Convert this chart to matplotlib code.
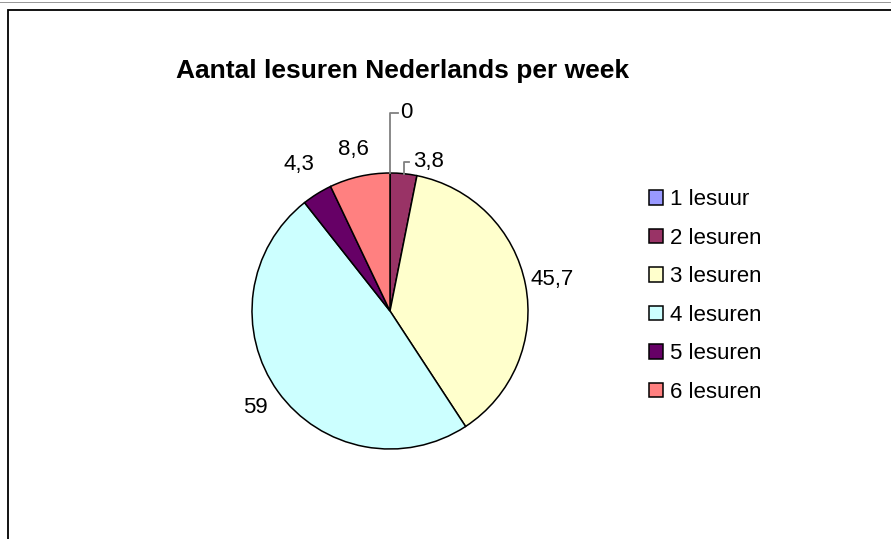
import numpy as np
import matplotlib.pyplot as plt
from matplotlib.patches import Rectangle

plt.rcParams['font.family'] = ['Liberation Sans', 'DejaVu Sans']

labels = ['1 lesuur', '2 lesuren', '3 lesuren', '4 lesuren', '5 lesuren', '6 lesuren']
values = [0, 3.8, 45.7, 59, 4.3, 8.6]
value_text = ['0', '3,8', '45,7', '59', '4,3', '8,6']
colors = ['#9999FF', '#993366', '#FFFFCC', '#CCFFFF', '#660066', '#FF8080']

fig = plt.figure(figsize=(8.91, 5.39), dpi=100)
W, H = 891, 539

# outer frame (Excel chart area)
fig.patches.append(Rectangle((0, 1 - 3 / H), 1, 0.002, transform=fig.transFigure,
                             facecolor='#999999', edgecolor='none'))
fig.patches.append(Rectangle((8 / W, -0.1), 1.2, 1.1 - 10 / H, transform=fig.transFigure,
                             facecolor='none', edgecolor='black', linewidth=1.3))

# pie centre (390, 311) px, radius 138 px
r_px = 138
L = 1.6
half = L * r_px
cx, cy = 390, H - 311
ax = fig.add_axes([(cx - half) / W, (cy - half) / H, 2 * half / W, 2 * half / H])

wedges, _ = ax.pie(values, colors=colors, startangle=90, counterclock=False,
                   wedgeprops=dict(edgecolor='black', linewidth=1.1))
ax.set_xlim(-L, L)
ax.set_ylim(-L, L)
ax.axis('off')

total = sum(values)
cum = np.cumsum([0] + values)
fs = 16
for i, w in enumerate(wedges):
    mid = (cum[i] + cum[i + 1]) / 2 / total * 360
    ang = np.deg2rad(90 - mid)
    ex, ey = np.cos(ang), np.sin(ang)
    if i == 0:
        # leader line straight up, then to the right
        ax.plot([ex, ex, ex + 0.058], [ey, 1.435, 1.435], color='#808080', lw=1.3, clip_on=False)
        ax.text(ex + 0.075, 1.44, value_text[i], ha='left', va='center', fontsize=fs)
    elif i == 1:
        ax.plot([ex, ex, ex + 0.04], [ey, 1.08, 1.08], color='#808080', lw=1.3, clip_on=False)
        ax.text(ex + 0.07, 1.08, value_text[i], ha='left', va='center', fontsize=fs)
    else:
        r = 1.25 if i == 4 else 1.2
        ax.text(r * ex, r * ey, value_text[i], ha='center', va='center', fontsize=fs)

fig.text(403 / W, 1 - 78 / H, 'Aantal lesuren Nederlands per week',
         ha='center', va='baseline', fontsize=19, fontweight='bold')

# legend
leg = fig.legend(wedges, labels, loc='upper left', bbox_to_anchor=(638 / W, 1 - 178 / H),
                 frameon=False, fontsize=fs, handlelength=0.64, handleheight=0.64,
                 handletextpad=0.3, labelspacing=0.79, borderpad=0)

fig.savefig('out.png', dpi=100)
